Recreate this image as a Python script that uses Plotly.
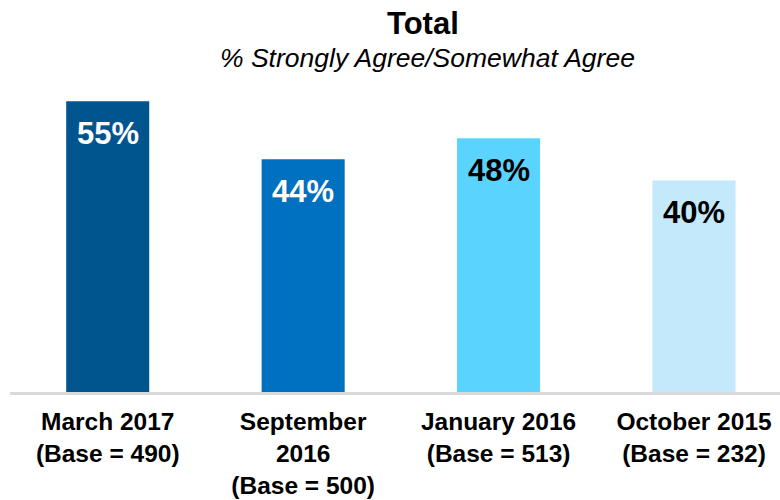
import plotly.graph_objects as go

categories = ["March 2017", "September 2016", "January 2016", "October 2015"]
tick_labels = ["March 2017<br>(Base = 490)", "September<br>2016<br>(Base = 500)",
               "January 2016<br>(Base = 513)", "October 2015<br>(Base = 232)"]
values = [55, 44, 48, 40]
bar_colors = ["#00558E", "#0070C0", "#5BD3FF", "#C3E9FB"]
label_colors = ["white", "white", "black", "black"]

FONT = "Liberation Sans, Arial, sans-serif"
x = list(range(len(categories)))

fig = go.Figure()
fig.add_trace(go.Bar(
    x=x, y=values, marker=dict(color=bar_colors, line=dict(width=0)),
    width=0.425, hoverinfo="skip",
))

for xi, v, c in zip(x, values, label_colors):
    fig.add_annotation(x=xi, y=v, xref="x", yref="y", text=f"<b>{v}%</b>",
                       showarrow=False, yanchor="top", yshift=-13,
                       font=dict(family=FONT, size=31, color=c))

fig.add_annotation(x=0.536, y=1.182, xref="paper", yref="paper", text="<b>Total</b>",
                   showarrow=False, xanchor="center", yanchor="middle",
                   font=dict(family=FONT, size=31, color="black"))
fig.add_annotation(x=0.542, y=1.07, xref="paper", yref="paper",
                   text="<i>% Strongly Agree/Somewhat Agree</i>",
                   showarrow=False, xanchor="center", yanchor="middle",
                   font=dict(family=FONT, size=26.5, color="black"))

fig.update_layout(
    width=780, height=500,
    margin=dict(l=10, r=0, t=80, b=108),
    paper_bgcolor="white", plot_bgcolor="white",
    showlegend=False,
    xaxis=dict(range=[-0.5, 3.44], tickmode="array", tickvals=x, ticktext=tick_labels,
               tickfont=dict(family=FONT, size=24.5, color="black", weight="bold"),
               ticklabelstandoff=6, automargin=False,
               showline=True, linecolor="#D9D9D9", linewidth=3,
               showgrid=False, zeroline=False, ticks="", fixedrange=True),
    yaxis=dict(range=[0, 59], visible=False, showgrid=False, zeroline=False,
               fixedrange=True, automargin=False),
)

fig.write_html("out.html", config={"displayModeBar": False},
               post_script="document.body.style.margin='0';")
